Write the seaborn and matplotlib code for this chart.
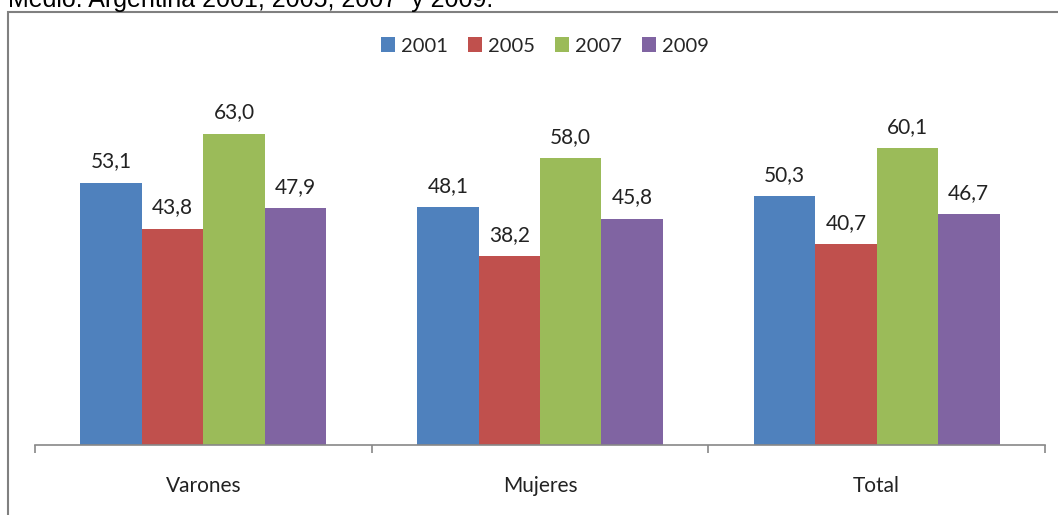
import pandas as pd
import matplotlib.pyplot as plt
import seaborn as sns
from matplotlib.patches import Rectangle

# Datos del gráfico
categorias = ['Varones', 'Mujeres', 'Total']
anios = ['2001', '2005', '2007', '2009']
v2001 = [53.1, 48.1, 50.3]
v2005 = [43.8, 38.2, 40.7]
v2007 = [63.0, 58.0, 60.1]
v2009 = [47.9, 45.8, 46.7]
colores = ['#4F81BD', '#C0504D', '#9BBB59', '#8064A2']

df = pd.DataFrame({
    'categoria': categorias * 4,
    'anio': [a for a in anios for _ in categorias],
    'valor': v2001 + v2005 + v2007 + v2009,
})

sns.set_style('white')
plt.rcParams['font.family'] = ['Lato', 'DejaVu Sans']

W, H = 1058, 515
fig = plt.figure(figsize=(W / 100, H / 100), dpi=100)
ax = fig.add_axes([35 / W, 70 / H, 1010 / W, 346 / H])

sns.barplot(data=df, x='categoria', y='valor', hue='anio', palette=colores,
            width=0.73, saturation=1, ax=ax, legend=True, edgecolor='none', linewidth=0)

for cont in ax.containers:
    ax.bar_label(cont, labels=[f'{v:.1f}'.replace('.', ',') for v in cont.datavalues],
                 padding=8, fontsize=15, color='#222222')

ax.set_ylim(0, 70)
ax.set_xlim(-0.5, 2.5)
ax.set_xlabel('')
ax.set_ylabel('')
ax.set_yticks([])
for s in ['top', 'right', 'left']:
    ax.spines[s].set_visible(False)
ax.spines['bottom'].set_color('#888888')
ax.spines['bottom'].set_linewidth(1.2)

ax.set_xticks([0, 1, 2])
ax.set_xticklabels(categorias, fontsize=15, color='#222222')
ax.tick_params(axis='x', which='major', length=0, pad=22)
ax.set_xticks([-0.5, 0.5, 1.5, 2.5], minor=True)
ax.tick_params(axis='x', which='minor', bottom=True, length=6, color='#888888',
               width=1.2, direction='out')

leg = ax.legend(loc='center', bbox_to_anchor=(545 / W, 1 - 46 / H), bbox_transform=fig.transFigure,
                ncol=4, frameon=False, fontsize=14.5, handlelength=0.7, handleheight=0.7,
                handletextpad=0.3, columnspacing=1.0)

# Marco del gráfico (recortado)
fig.patches.append(Rectangle((7.5 / W, -0.1), 1.2, 1 - 12 / H + 0.1, transform=fig.transFigure,
                             fill=False, edgecolor='#808080', linewidth=1.5))

# Título recortado en la parte superior
fig.text(8 / W, 1 - 7 / H, 'Medio. Argentina 2001, 2005, 2007  y 2009.', fontsize=18,
         family=['Liberation Sans', 'DejaVu Sans'], va='baseline', ha='left', color='black')

fig.savefig('out.png', dpi=100)
